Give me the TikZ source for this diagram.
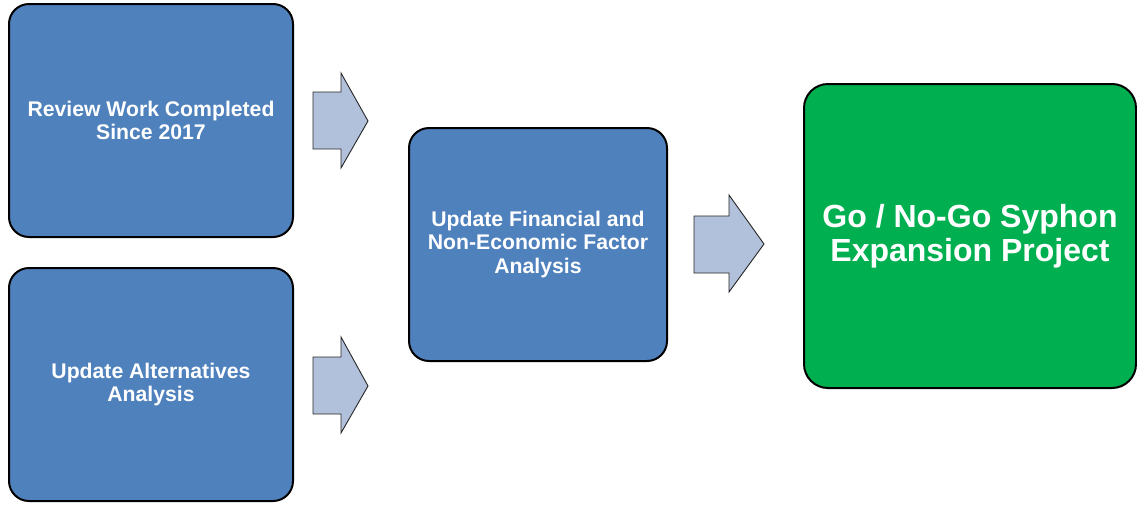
\documentclass[tikz,border=0pt]{standalone}
\usepackage{fontspec}
\setmainfont{Liberation Sans}
\definecolor{boxblue}{HTML}{4F81BD}
\definecolor{arrowblue}{HTML}{B2C1DB}
\definecolor{boxgreen}{HTML}{00B050}
\begin{document}
\begin{tikzpicture}[x=1pt,y=-1pt,
  stepbox/.style={draw=black, line width=2pt, rounded corners=20pt, fill=boxblue,
    text=white, font=\fontsize{21.2}{23.5}\selectfont\bfseries, align=center, inner sep=0pt},
  gobox/.style={stepbox, fill=boxgreen, rounded corners=24pt,
    font=\fontsize{32}{34.5}\selectfont\bfseries},
  blockarrow/.style={draw=black!85, line width=0.9pt, fill=arrowblue, line join=miter}]
\useasboundingbox (0,0) rectangle (1137,504);
\node[stepbox, minimum width=284pt, minimum height=233pt] (review) at (151,120.5)
  {Review Work Completed\\Since 2017};
\node[stepbox, minimum width=284pt, minimum height=233pt] (alt) at (151,384.5)
  {Update Alternatives\\Analysis};
\node[stepbox, minimum width=258pt, minimum height=233pt] (fin) at (538,244.5)
  {Update Financial and\\Non-Economic Factor\\Analysis};
\node[gobox, minimum width=332pt, minimum height=304pt] (go) at (970,236)
  {Go / No-Go Syphon\\Expansion Project};
% block arrows
\draw[blockarrow] (313,92) -- (341,92) -- (341,73) -- (368,121) -- (341,168) -- (341,149) -- (313,149) -- cycle;
\draw[blockarrow] (313,357) -- (341,357) -- (341,337) -- (368,386) -- (341,433) -- (341,414) -- (313,414) -- cycle;
\draw[blockarrow] (694,216) -- (729,216) -- (729,195) -- (764,244) -- (729,292) -- (729,273) -- (694,273) -- cycle;
\end{tikzpicture}
\end{document}
